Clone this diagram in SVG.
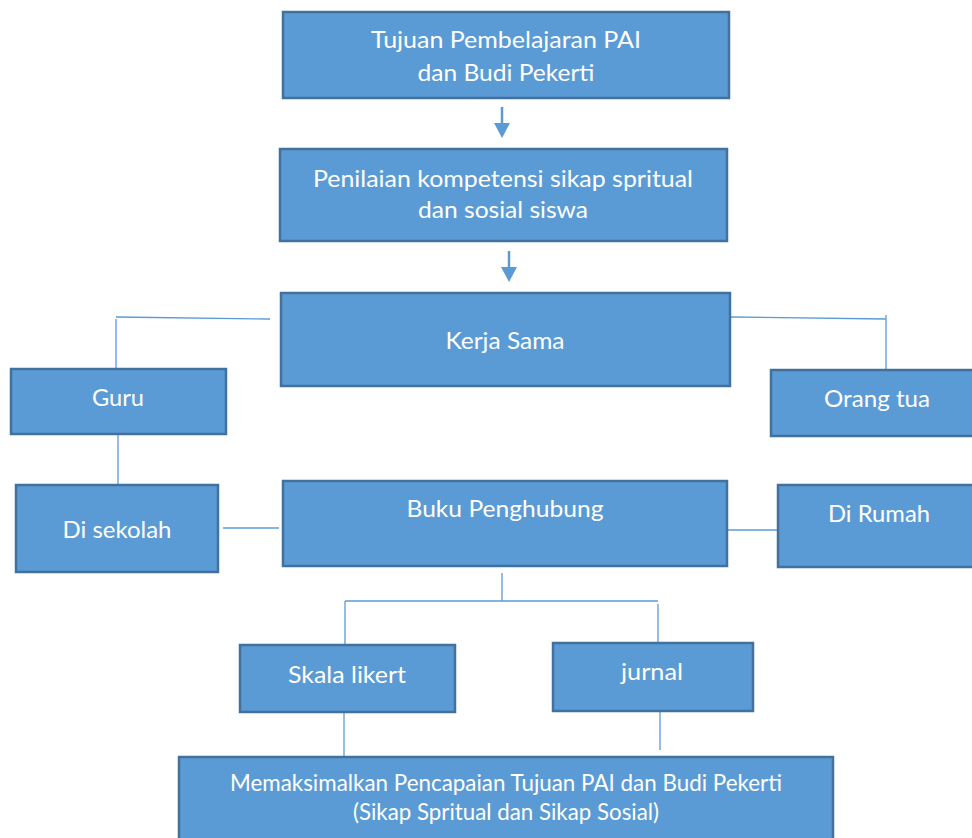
<svg xmlns="http://www.w3.org/2000/svg" width="972" height="838" viewBox="0 0 972 838">
<defs>
<style>
.box{fill:#5b9bd5;stroke:#41719c;stroke-width:2.5}
.t{fill:#ffffff;font-family:Lato,"Open Sans","Liberation Sans",sans-serif;font-size:24px;text-anchor:middle}
.c{fill:none;stroke:#5b9bd5;stroke-width:1.3}
.a{fill:none;stroke:#5b9bd5;stroke-width:2.5}
</style>
<marker id="ah" markerWidth="6" markerHeight="6" refX="3" refY="3" orient="auto" markerUnits="userSpaceOnUse" viewBox="0 0 6 6">
<path d="M0,0 L6,3 L0,6 z" fill="#5b9bd5"/>
</marker>
</defs>
<rect width="972" height="838" fill="#ffffff"/>
<g id="connectors">
<line class="a" x1="502" y1="107" x2="502" y2="124"/>
<path d="M494,123 L510,123 L502,138 z" fill="#5b9bd5"/>
<line class="a" x1="509" y1="251" x2="509" y2="268"/>
<path d="M501,267 L517,267 L509,282 z" fill="#5b9bd5"/>
<path class="c" d="M116,317 L270,319 M116,319 L116,368"/>
<path class="c" d="M731,317 L886,319 M886,315 L886,370"/>
<path class="c" d="M118,435 L118,486"/>
<path class="c" d="M223,528 L279,528"/>
<path class="c" d="M728,530 L778,530"/>
<path class="c" d="M502,573 L502,601 M345,601 L658,601 M345,601 L345,645 M658,604 L658,643"/>
<path class="c" d="M344,713 L344,757"/>
<path class="c" d="M660,712 L660,750"/>
</g>
<g id="n1">
<rect class="box" x="283" y="12" width="446" height="86"/>
<text class="t" x="506" y="48" textLength="270" lengthAdjust="spacingAndGlyphs">Tujuan Pembelajaran PAI</text>
<text class="t" x="506" y="81" textLength="177" lengthAdjust="spacingAndGlyphs">dan Budi Pekerti</text>
</g>
<g id="n2">
<rect class="box" x="280" y="149" width="447" height="92"/>
<text class="t" x="503" y="187" textLength="380" lengthAdjust="spacingAndGlyphs">Penilaian kompetensi sikap spritual</text>
<text class="t" x="503" y="218" textLength="170" lengthAdjust="spacingAndGlyphs">dan sosial siswa</text>
</g>
<g id="n3">
<rect class="box" x="281" y="293" width="449" height="93"/>
<text class="t" x="505" y="349" textLength="119" lengthAdjust="spacingAndGlyphs">Kerja Sama</text>
</g>
<g id="n4">
<rect class="box" x="11" y="369" width="215" height="65"/>
<text class="t" x="118" y="406" textLength="52" lengthAdjust="spacingAndGlyphs">Guru</text>
</g>
<g id="n5">
<rect class="box" x="771" y="370" width="204" height="66"/>
<text class="t" x="877" y="407" textLength="106" lengthAdjust="spacingAndGlyphs">Orang tua</text>
</g>
<g id="n6">
<rect class="box" x="16" y="485" width="202" height="87"/>
<text class="t" x="117" y="538" textLength="109" lengthAdjust="spacingAndGlyphs">Di sekolah</text>
</g>
<g id="n7">
<rect class="box" x="283" y="481" width="444" height="85"/>
<text class="t" x="505" y="517" textLength="197" lengthAdjust="spacingAndGlyphs">Buku Penghubung</text>
</g>
<g id="n8">
<rect class="box" x="778" y="485" width="197" height="82"/>
<text class="t" x="879" y="522" textLength="102" lengthAdjust="spacingAndGlyphs">Di Rumah</text>
</g>
<g id="n9">
<rect class="box" x="240" y="645" width="215" height="67"/>
<text class="t" x="347" y="683" textLength="118" lengthAdjust="spacingAndGlyphs">Skala likert</text>
</g>
<g id="n10">
<rect class="box" x="553" y="643" width="200" height="68"/>
<text class="t" x="652" y="680" textLength="62" lengthAdjust="spacingAndGlyphs">jurnal</text>
</g>
<g id="n11">
<rect class="box" x="179" y="757" width="654" height="90"/>
<text class="t" x="506" y="791" textLength="552" lengthAdjust="spacingAndGlyphs">Memaksimalkan Pencapaian Tujuan PAI dan Budi Pekerti</text>
<text class="t" x="506" y="820" textLength="306" lengthAdjust="spacingAndGlyphs">(Sikap Spritual dan Sikap Sosial)</text>
</g>
</svg>
